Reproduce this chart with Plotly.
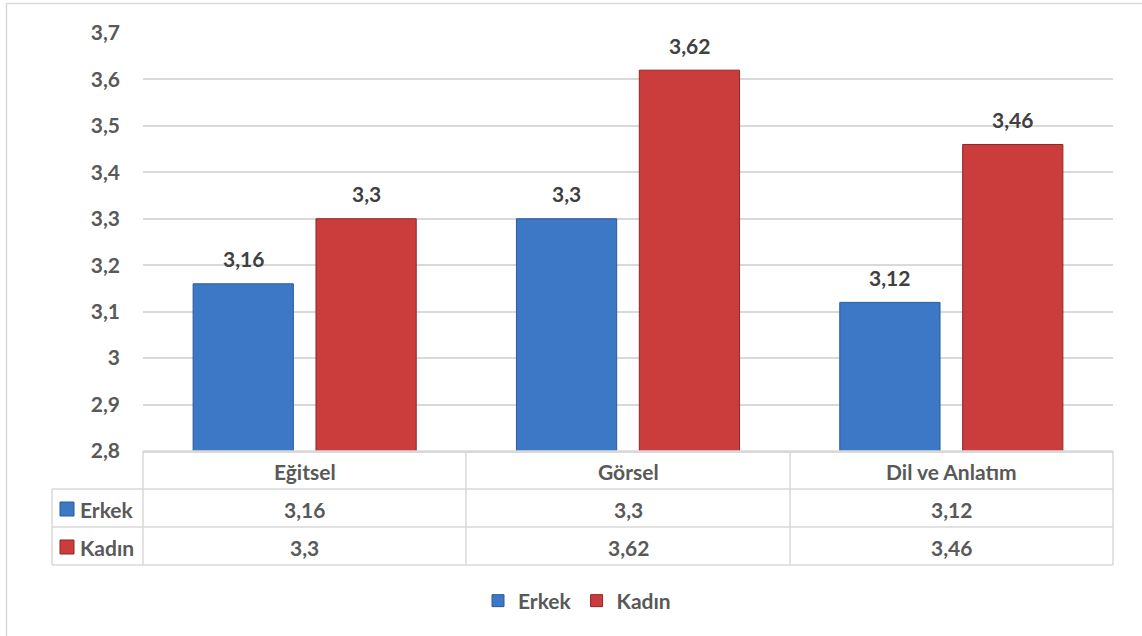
import plotly.graph_objects as go

categories = ["Eğitsel", "Görsel", "Dil ve Anlatım"]
series_names = ["Erkek", "Kadın"]
erkek = [3.16, 3.3, 3.12]
kadin = [3.3, 3.62, 3.46]
y_ticks = [2.8, 2.9, 3.0, 3.1, 3.2, 3.3, 3.4, 3.5, 3.6, 3.7]

W, H = 1142, 636
L, R, T, B = 143, 1113, 33, 451


def px(x):
    return (x - L) / (R - L)


def py(y):
    return (B - y) / (B - T)


def fmt(v):
    s = ("%.2f" % v).rstrip("0").rstrip(".")
    return s.replace(".", ",")


FONT = "Lato"
GRAY = "#595959"
DARK = "#404040"
BLUE = "#3c78c6"
BLUE_LINE = "#2b5a97"
RED = "#cb3c3c"
RED_LINE = "#8e2727"
GRID = "#d9d9d9"
FS = 21


def tfont(color=GRAY, size=FS):
    return dict(family=FONT, size=size, color=color, weight="bold")


fig = go.Figure()
fig.add_trace(go.Bar(
    x=categories, y=erkek, name=series_names[0],
    marker=dict(color=BLUE, line=dict(color=BLUE_LINE, width=1)),
    width=0.31, offset=-0.345,
))
fig.add_trace(go.Bar(
    x=categories, y=kadin, name=series_names[1],
    marker=dict(color=RED, line=dict(color=RED_LINE, width=1)),
    width=0.31, offset=0.035,
))

annotations = []
shapes = []

# value labels above bars
for i, (e, k) in enumerate(zip(erkek, kadin)):
    for dx, v in ((-0.19, e), (0.19, k)):
        annotations.append(dict(
            x=i + dx, y=v, xref="x", yref="y", text=fmt(v),
            showarrow=False, xanchor="center", yanchor="middle", yshift=25,
            font=tfont(DARK),
        ))

# data table
cols = [143, 466, 790, 1113]
rows = [451, 489, 527, 565]
line = dict(color=GRID, width=1.5)
shapes.append(dict(type="line", xref="paper", yref="paper",
                   x0=px(143), x1=px(1113), y0=py(451), y1=py(451), line=line))
for yy in rows[1:]:
    shapes.append(dict(type="line", xref="paper", yref="paper",
                       x0=px(52), x1=px(1113), y0=py(yy), y1=py(yy), line=line))
for xx in cols:
    shapes.append(dict(type="line", xref="paper", yref="paper",
                       x0=px(xx), x1=px(xx), y0=py(451), y1=py(565), line=line))
shapes.append(dict(type="line", xref="paper", yref="paper",
                   x0=px(52), x1=px(52), y0=py(489), y1=py(565), line=line))

row_centers = [471, 509, 547]
for j, cat in enumerate(categories):
    cx = (cols[j] + cols[j + 1]) / 2
    for rc, txt in ((row_centers[0], cat), (row_centers[1], fmt(erkek[j])),
                    (row_centers[2], fmt(kadin[j]))):
        annotations.append(dict(x=px(cx), y=py(rc), xref="paper", yref="paper",
                                text=txt, showarrow=False, xanchor="center",
                                yanchor="middle", font=tfont()))

for name, yc, col, lc in ((series_names[0], 509, BLUE, BLUE_LINE),
                          (series_names[1], 547, RED, RED_LINE)):
    shapes.append(dict(type="rect", xref="paper", yref="paper",
                       x0=px(60), x1=px(74), y0=py(yc - 7), y1=py(yc + 7),
                       fillcolor=col, line=dict(color=lc, width=1)))
    annotations.append(dict(x=px(78), y=py(yc), xref="paper", yref="paper",
                            xanchor="left", yanchor="middle", text=name,
                            showarrow=False, font=tfont()))

# outer chart border (left & top visible)
shapes.append(dict(type="line", xref="paper", yref="paper",
                   x0=px(6), x1=px(1150), y0=py(3.5), y1=py(3.5),
                   line=dict(color=GRID, width=1.5)))
shapes.append(dict(type="line", xref="paper", yref="paper",
                   x0=px(6.5), x1=px(6.5), y0=py(3), y1=py(640),
                   line=dict(color=GRID, width=1.5)))

fig.update_layout(
    width=W, height=H,
    margin=dict(l=L, r=W - R, t=T, b=H - B, autoexpand=False),
    paper_bgcolor="white", plot_bgcolor="white",
    separators=",.",
    barmode="overlay",
    showlegend=True,
    legend=dict(orientation="h", x=px(577), xanchor="center", y=py(601), yanchor="middle",
                font=tfont(), traceorder="normal", itemwidth=30),
    annotations=annotations,
    shapes=shapes,
    xaxis=dict(showticklabels=False, showgrid=False, showline=True, linecolor=GRID,
               linewidth=1.5, ticks="", zeroline=False, fixedrange=True),
    yaxis=dict(range=[2.8, 3.7], tickvals=y_ticks, showgrid=True, gridcolor=GRID,
               gridwidth=1.5, zeroline=False, showline=False, ticks="",
               ticklabelstandoff=22, tickfont=tfont(), fixedrange=True),
    font=dict(family=FONT, color=GRAY),
)

fig.write_html("out.html", config={"displayModeBar": False})
